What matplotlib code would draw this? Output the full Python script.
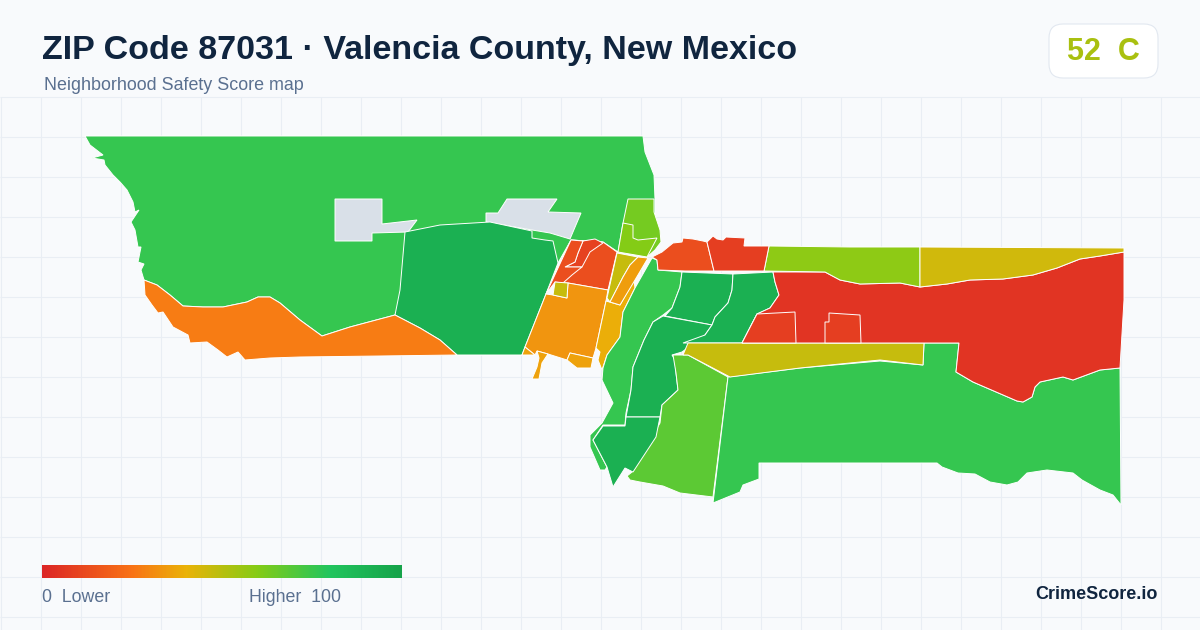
import numpy as np
import matplotlib
matplotlib.use("Agg")
import matplotlib.pyplot as plt
from matplotlib.colors import LinearSegmentedColormap, Normalize
from matplotlib.patches import FancyBboxPatch, Polygon

plt.rcParams["font.family"] = ["Liberation Sans", "DejaVu Sans"]

TITLE = "ZIP Code 87031 · Valencia County, New Mexico"
SUBTITLE = "Neighborhood Safety Score map"
BADGE = "52  C"
BRAND = "CrimeScore.io"

# tract outlines, in image pixels
nw_green = [(85, 136), (643, 136), (645, 152), (654, 175), (655, 199), (655, 250), (618, 252), (603, 242),
            (571, 240), (558, 263), (546, 294), (525, 347), (522, 355), (457, 355), (395, 315), (350, 327),
            (322, 336), (300, 320), (280, 303), (270, 297), (258, 297), (247, 302), (223, 307), (203, 307),
            (183, 306), (170, 295), (157, 285), (144, 280), (141, 270), (144, 264), (138, 262), (141, 247),
            (138, 247), (135, 230), (131, 222), (139, 210), (135, 212), (133, 202), (127, 190), (120, 182),
            (113, 175), (105, 165), (104, 160), (92, 158), (103, 155), (90, 145)]
grey_a = [(335, 199), (382, 199), (382, 224), (417, 220), (408, 232), (372, 233), (372, 241), (335, 241)]
grey_b = [(486, 213), (498, 213), (507, 199), (557, 199), (548, 212), (581, 213), (570, 239), (550, 233),
          (532, 230), (486, 222)]
west_dark = [(405, 232), (440, 225), (490, 222), (532, 231), (532, 238), (545, 240), (553, 241), (558, 263),
             (546, 294), (525, 347), (522, 355), (457, 355), (440, 340), (420, 328), (395, 315), (400, 290)]
sw_orange = [(144, 280), (157, 285), (170, 295), (183, 306), (203, 307), (223, 307), (247, 302), (258, 297),
             (270, 297), (280, 303), (300, 320), (322, 336), (350, 327), (395, 315), (420, 328), (440, 340),
             (457, 355), (380, 356), (300, 357), (270, 358), (245, 360), (238, 352), (227, 357), (218, 350),
             (207, 342), (190, 343), (188, 335), (173, 327), (163, 312), (158, 313), (152, 305), (145, 295)]
core_orange_red = [(571, 240), (603, 242), (617, 252), (608, 290), (568, 283), (555, 282), (546, 294)]
core_red = [(583, 241), (595, 239), (603, 243), (590, 252), (582, 267), (565, 267), (575, 262), (578, 253)]
core_left = [(571, 240), (583, 241), (578, 253), (575, 262), (565, 267), (582, 267), (572, 275), (563, 283),
             (555, 282), (546, 294)]
core_olive = [(555, 282), (568, 283), (567, 298), (553, 295)]
south_orange = [(553, 295), (567, 298), (568, 283), (608, 290), (606, 301), (596, 348), (593, 358), (570, 353),
                (567, 360), (548, 354), (537, 351), (535, 355), (525, 347), (546, 294)]
tab_west = [(525, 347), (535, 355), (522, 355)]
tab_mid = [(537, 351), (548, 354), (542, 363), (539, 379), (532, 379), (537, 367), (539, 358)]
tab_east = [(570, 353), (593, 358), (591, 368), (577, 368), (567, 360)]
river_yellow = [(606, 301), (620, 305), (634, 280), (635, 288), (623, 312), (620, 337), (607, 355), (602, 370),
                (598, 360), (600, 352), (596, 348)]
river_olive = [(617, 253), (638, 257), (630, 265), (623, 277), (610, 302), (607, 298)]
river_orange = [(638, 257), (648, 258), (635, 280), (620, 305), (610, 302), (623, 277), (630, 265)]
north_lime = [(628, 199), (654, 199), (654, 212), (660, 230), (661, 242), (655, 250), (647, 257), (618, 252),
              (623, 223)]
north_lime_inner = [(623, 223), (633, 225), (633, 238), (638, 240), (657, 238), (647, 257), (618, 252)]
mid_green = [(652, 258), (657, 260), (658, 270), (682, 272), (680, 287), (672, 308), (663, 315), (653, 322),
             (644, 340), (633, 367), (631, 390), (626, 413), (625, 425), (603, 425), (593, 440), (607, 467),
             (605, 470), (600, 470), (590, 447), (590, 435), (602, 423), (613, 403), (602, 380), (603, 368),
             (607, 355), (620, 337), (623, 312), (635, 288)]
upper_dark = [(682, 272), (733, 274), (732, 290), (728, 303), (715, 317), (712, 325), (665, 316), (672, 308),
              (680, 287)]
lower_dark = [(663, 316), (712, 325), (705, 335), (682, 352), (672, 355), (675, 360), (676, 373), (678, 390),
              (662, 405), (660, 417), (626, 417), (631, 390), (633, 367), (644, 340), (653, 322)]
east_dark = [(733, 274), (773, 272), (775, 282), (779, 295), (770, 308), (757, 314), (742, 343), (683, 343),
             (705, 335), (712, 325), (715, 317), (728, 303), (732, 290)]
south_lime = [(673, 355), (688, 355), (728, 377), (713, 497), (680, 493), (663, 486), (640, 482), (630, 480),
              (627, 476), (632, 472), (660, 423), (662, 405), (678, 390), (676, 373)]
south_dark = [(593, 440), (603, 426), (625, 426), (626, 417), (660, 417), (656, 437), (633, 472), (625, 468),
              (613, 487), (607, 467)]
se_green = [(728, 377), (800, 368), (880, 361), (923, 365), (924, 343), (959, 343), (956, 372), (973, 382),
            (1017, 401), (1023, 402), (1032, 397), (1035, 387), (1040, 382), (1063, 377), (1073, 380), (1100, 370),
            (1120, 368), (1121, 505), (1113, 495), (1100, 490), (1082, 480), (1073, 473), (1047, 470), (1027, 473),
            (1018, 482), (1007, 485), (990, 482), (975, 474), (958, 473), (942, 467), (937, 463), (759, 463),
            (759, 479), (743, 485), (740, 492), (713, 503)]
south_band = [(683, 355), (688, 343), (924, 343), (923, 365), (880, 360), (800, 368), (730, 377), (688, 355)]
east_red = [(773, 272), (825, 272), (840, 280), (860, 284), (900, 283), (920, 287), (947, 284), (970, 280),
            (1003, 279), (1033, 275), (1057, 268), (1080, 259), (1100, 256), (1124, 252), (1124, 300), (1120, 368),
            (1100, 370), (1073, 380), (1063, 377), (1040, 382), (1035, 387), (1032, 397), (1023, 402), (1017, 401),
            (973, 382), (956, 372), (959, 343), (742, 343), (757, 314), (770, 308), (779, 295), (775, 282)]
red_box_a = [(757, 314), (795, 312), (796, 343), (742, 343)]
red_box_b = [(825, 322), (829, 322), (829, 313), (860, 315), (861, 343), (825, 343)]
east_lime = [(769, 246), (850, 247), (920, 247), (920, 287), (900, 283), (860, 284), (840, 280), (825, 272),
             (764, 271)]
east_olive = [(920, 247), (1124, 248), (1124, 252), (1100, 256), (1080, 259), (1057, 268), (1033, 275), (1003, 279),
              (970, 280), (947, 284), (920, 287)]
north_orange_red = [(652, 257), (662, 252), (673, 243), (682, 242), (683, 238), (693, 239), (703, 241), (707, 242),
                    (714, 271), (685, 271), (658, 270), (657, 260)]
north_red = [(707, 242), (713, 236), (717, 239), (723, 240), (726, 237), (745, 238), (744, 246), (769, 246),
             (764, 271), (714, 271)]

# draw order matters, the later ones sit on top
tracts = [nw_green, grey_a, grey_b, west_dark, sw_orange, core_orange_red, core_red, core_left, south_orange,
          core_olive, tab_west, tab_mid, tab_east, river_yellow, river_olive, river_orange, north_lime,
          north_lime_inner, mid_green, upper_dark, lower_dark, east_dark, south_lime, south_dark, se_green,
          south_band, east_red, red_box_a, red_box_b, east_lime, east_olive, north_orange_red, north_red]
scores = [76, None, None, 92, 27, 13, 9, 13, 33, 47, 36, 36, 36, 39, 47, 35, 63, 60, 76, 92, 92, 92, 68, 92, 76, 47,
          5, 8, 8, 58, 45, 13, 8]

score_stops = [0.0, 0.25, 0.4, 0.6, 0.8, 1.0]
stop_colors = ["#dc2626", "#f97316", "#eab308", "#84cc16", "#22c55e", "#16a34a"]

cmap = LinearSegmentedColormap.from_list("safety", list(zip(score_stops, stop_colors)))
norm = Normalize(0, 100)

fig = plt.figure(figsize=(12, 6.3), dpi=100, facecolor="#f8fafc")
ax = fig.add_axes([0, 0, 1, 1])
ax.set_xlim(0, 1200)
ax.set_ylim(630, 0)
ax.axis("off")

# background grid starts under the header
ax.vlines(np.arange(0, 1201, 40) + 0.5, 97, 630, color="#e9eef4", lw=0.8, zorder=1)
ax.hlines(np.arange(97, 630, 40) - 0.5, 0, 1200, color="#e9eef4", lw=0.8, zorder=1)

for outline, score in zip(tracts, scores):
    color = "#d9e0e8" if score is None else cmap(norm(score))
    ax.add_patch(Polygon(outline, closed=True, facecolor=color, edgecolor="white", lw=0.7, zorder=2))

ax.text(42, 50, TITLE, fontsize=24.5, fontweight="bold", color="#10253f", va="center", ha="left")
ax.text(44, 86, SUBTITLE, fontsize=12.9, color="#5a7090", va="center", ha="left")

ax.add_patch(FancyBboxPatch((1049, 24), 109, 54, boxstyle="round,pad=0,rounding_size=14",
                            facecolor="white", edgecolor="#e2e8f0", lw=0.8, zorder=3))
ax.text(1103, 52.5, BADGE, fontsize=22, fontweight="bold", color="#a9c010", va="center", ha="center", zorder=4)

# legend bar
gradient = np.linspace(0, 1, 360).reshape(1, -1)
ax.imshow(gradient, cmap=cmap, extent=(42, 402, 578, 565), aspect="auto", zorder=3)
ax.set_xlim(0, 1200)
ax.set_ylim(630, 0)
ax.text(42, 598, "0  Lower", fontsize=12.8, color="#5a7090", va="center", ha="left")
ax.text(249, 598, "Higher  100", fontsize=12.8, color="#5a7090", va="center", ha="left")
ax.text(1158, 594.5, BRAND, fontsize=13, fontweight="bold", color="#10253f", va="center", ha="right")

fig.savefig("out.png", dpi=100, facecolor=fig.get_facecolor())
